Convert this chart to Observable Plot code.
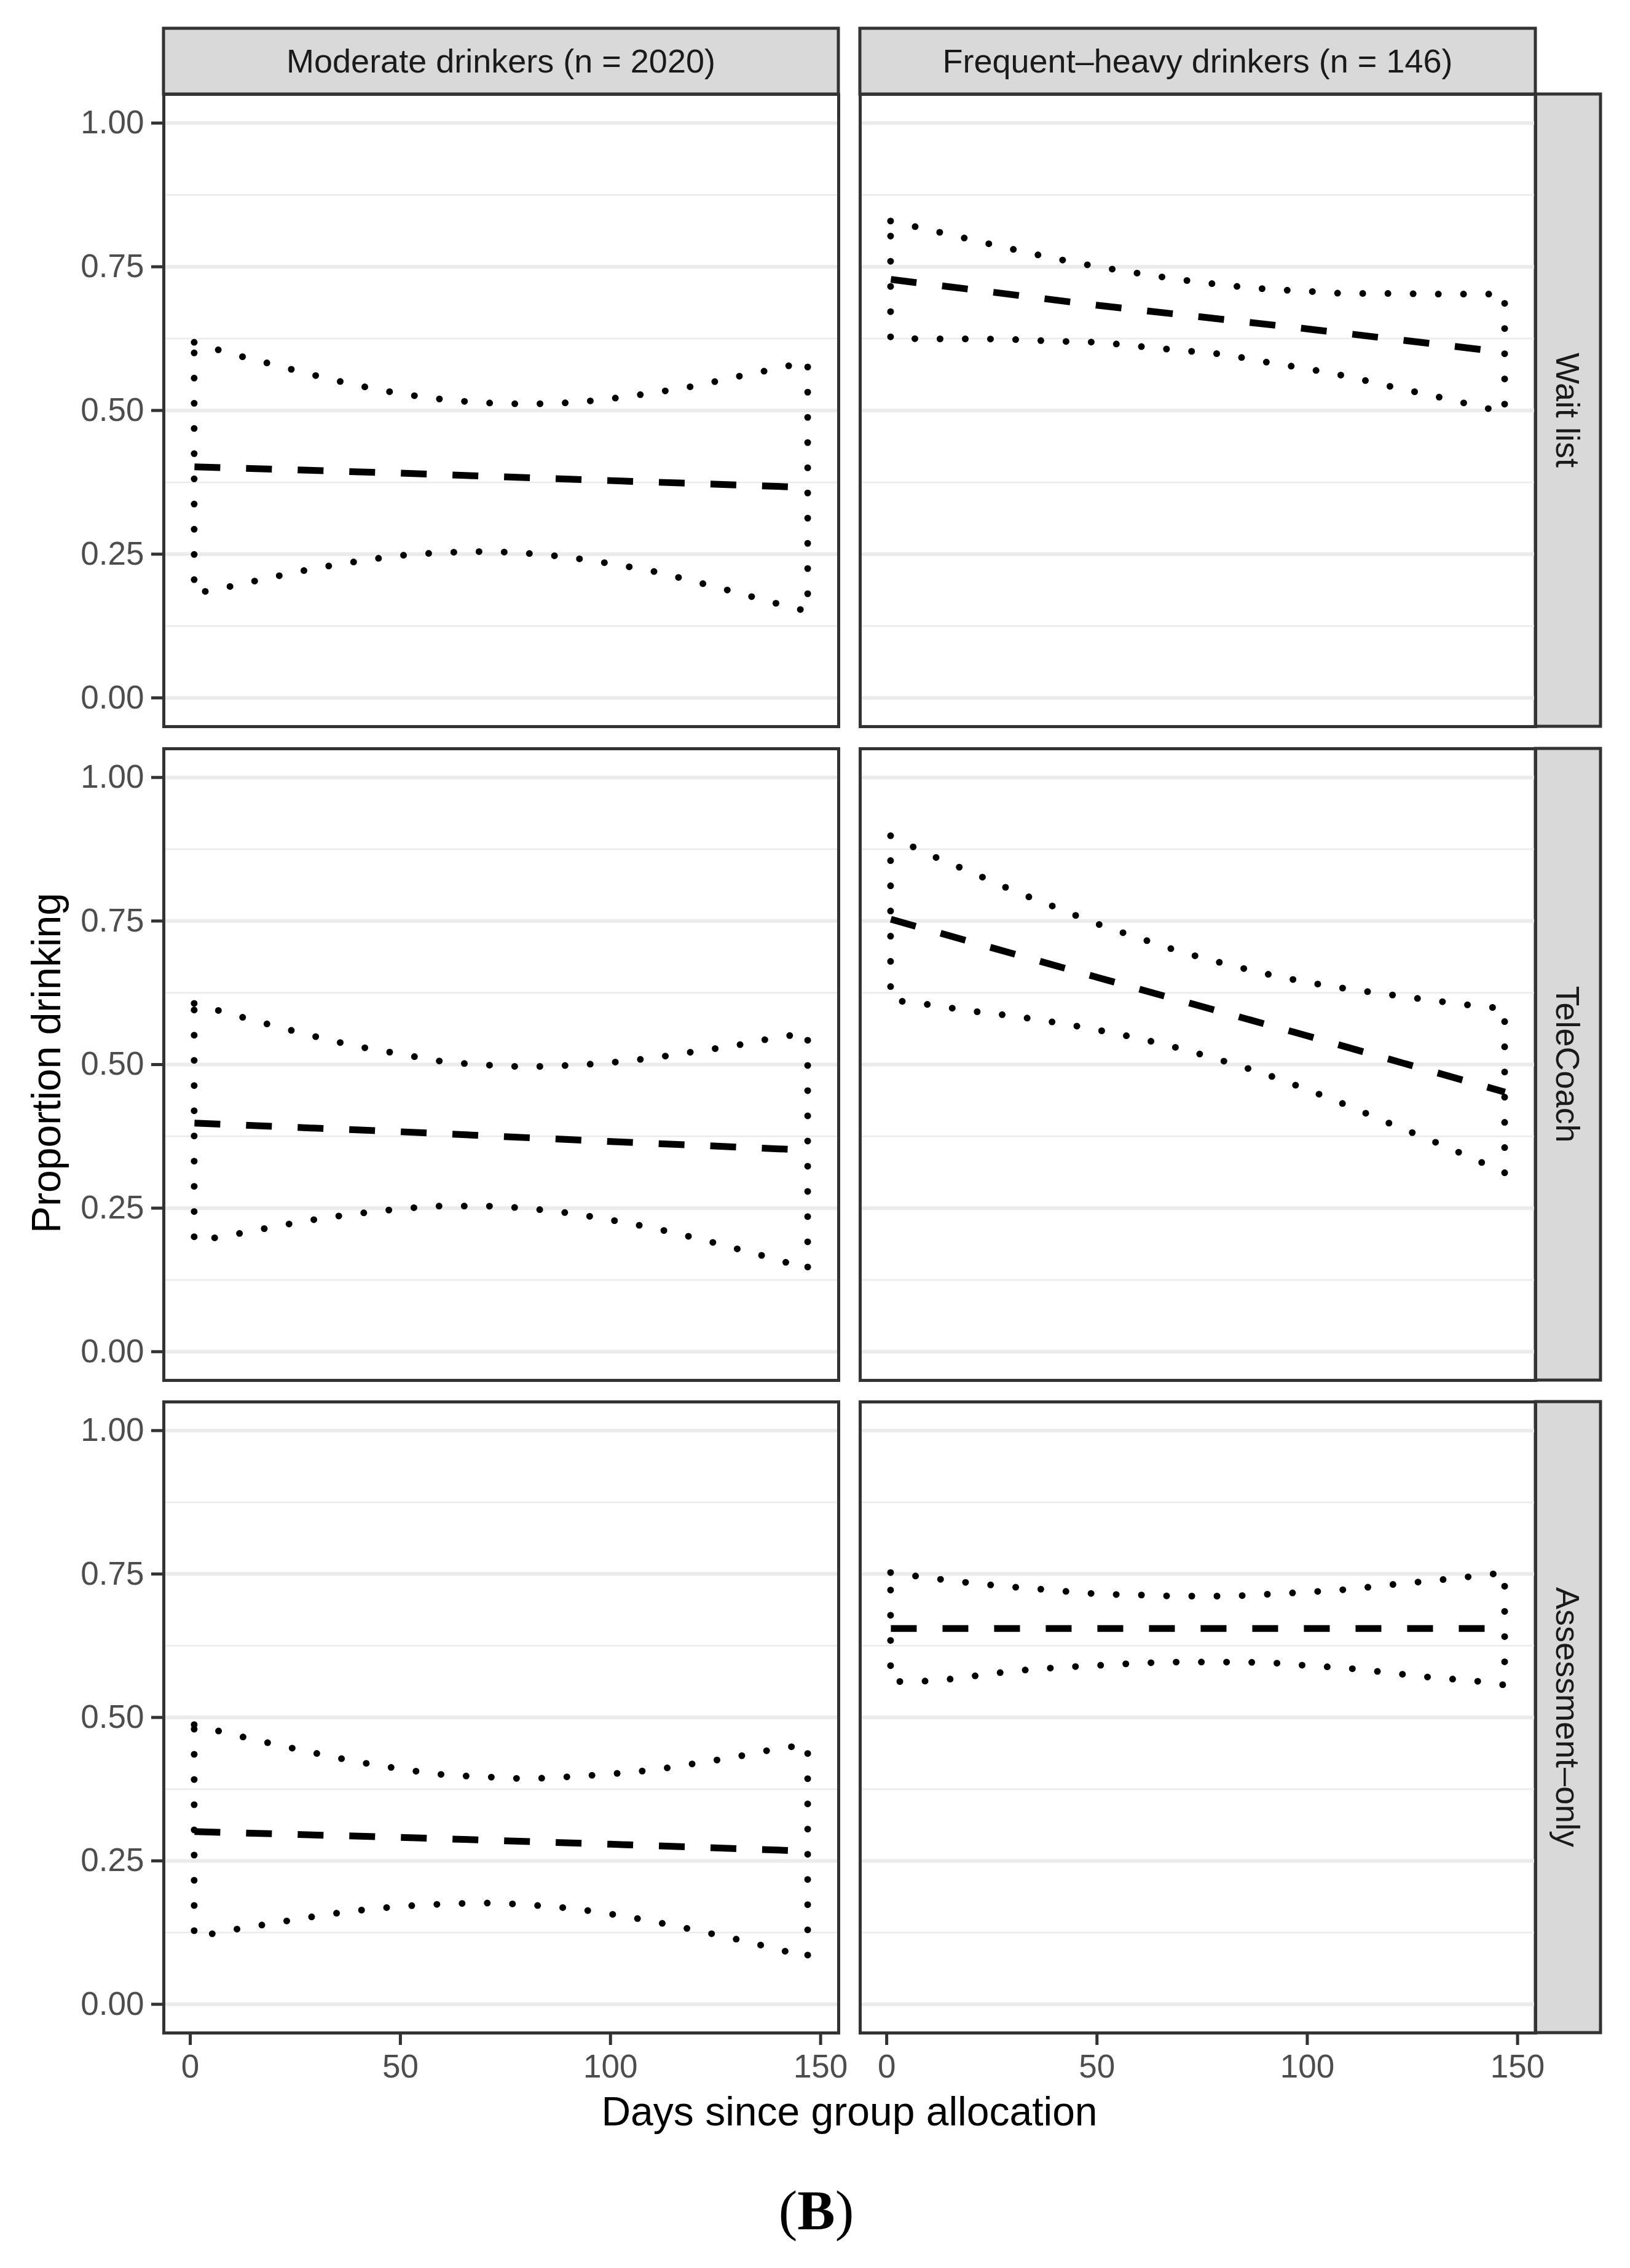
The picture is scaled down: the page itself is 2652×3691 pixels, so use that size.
<!DOCTYPE html>
<html>
<head>
<meta charset="utf-8">
<script src="https://cdn.jsdelivr.net/npm/d3@7"></script>
<script src="https://cdn.jsdelivr.net/npm/@observablehq/plot@0.6"></script>
<style>
html, body { margin: 0; padding: 0; background: #ffffff; }
#chart { position: relative; width: 2652px; height: 3691px; background: #ffffff; overflow: hidden;
  font-family: "Liberation Sans", Arial, Helvetica, sans-serif; }
#chart > svg.overlay { position: absolute; left: 0; top: 0; }
.panel { position: absolute; }
.panel svg { display: block; overflow: visible; }
</style>
</head>
<body>
<div id="chart"></div>
<script>
// ---------------- data ----------------
const days = [1, 10, 20, 30, 40, 50, 60, 70, 80, 90, 100, 110, 120, 130, 140, 147];
const meanDays = [1, 50, 100, 147];
const drinkerGroups = ["Moderate drinkers (n = 2020)", "Frequent–heavy drinkers (n = 146)"];
const conditions = ["Wait list", "TeleCoach", "Assessment–only"];
const xTicks = [0, 50, 100, 150];
const yTicks = [0, 0.25, 0.5, 0.75, 1];
const yMinorTicks = [0.125, 0.375, 0.625, 0.875];
const xTitle = "Days since group allocation";
const yTitle = "Proportion drinking";
const captionLetter = "B";

// Wait list
const modWaitUpper = [.618, .598, .579, .560, .543, .529, .519, .513, .511, .513, .520, .530, .542, .558, .573, .585];
const modWaitLower = [.181, .194, .210, .225, .237, .247, .252, .254, .251, .244, .233, .220, .202, .183, .163, .150];
const modWaitMean  = [.402, .391, .378, .366];
const fhWaitUpper  = [.829, .814, .797, .780, .764, .750, .738, .727, .718, .711, .707, .703, .703, .702, .702, .702];
const fhWaitLower  = [.626, .624, .624, .623, .620, .618, .611, .604, .597, .584, .572, .558, .541, .525, .508, .496];
const fhWaitMean   = [.728, .683, .642, .601];
// TeleCoach
const modTeleUpper = [.606, .587, .567, .548, .531, .518, .505, .499, .496, .498, .503, .511, .522, .533, .547, .554];
const modTeleLower = [.192, .203, .217, .230, .240, .248, .253, .253, .249, .241, .229, .215, .198, .179, .159, .143];
const modTeleMean  = [.398, .383, .366, .351];
const fhTeleUpper  = [.898, .866, .835, .803, .774, .745, .720, .696, .676, .658, .643, .631, .621, .611, .602, .597];
const fhTeleLower  = [.612, .604, .593, .584, .573, .560, .545, .527, .506, .483, .456, .427, .396, .366, .334, .311];
const fhTeleMean   = [.753, .652, .550, .452];
// Assessment-only
const modAssessUpper = [.487, .470, .453, .437, .422, .410, .400, .396, .393, .396, .401, .408, .419, .431, .445, .452];
const modAssessLower = [.116, .129, .141, .153, .163, .170, .174, .176, .173, .167, .157, .144, .129, .113, .095, .082];
const modAssessMean  = [.301, .291, .279, .267];
const fhAssessUpper  = [.752, .743, .734, .727, .721, .715, .713, .711, .711, .714, .718, .723, .731, .738, .746, .752];
const fhAssessLower  = [.562, .563, .571, .580, .586, .590, .594, .596, .596, .595, .590, .585, .577, .569, .563, .556];
const fhAssessMean   = [.655, .655, .655, .655];

const panelSeries = [
  [[modWaitUpper, modWaitLower, modWaitMean], [fhWaitUpper, fhWaitLower, fhWaitMean]],
  [[modTeleUpper, modTeleLower, modTeleMean], [fhTeleUpper, fhTeleLower, fhTeleMean]],
  [[modAssessUpper, modAssessLower, modAssessMean], [fhAssessUpper, fhAssessLower, fhAssessMean]]
];

// ---------------- layout ----------------
const colLeft = [266, 1399], colWidth = [1098, 1099];
const rowTop = [153, 1218, 2281], rowHeight = [1029, 1028, 1027];
const stripTop = 46, stripRightLeft = 2498, stripRightRight = 2604;
const FONT = '"Liberation Sans", Arial, Helvetica, sans-serif';

const chart = document.getElementById("chart");

// overlay for strips and titles
const svg = d3.select(chart).append("svg").attr("class", "overlay")
  .attr("width", 2652).attr("height", 3691)
  .style("font-family", FONT);

drinkerGroups.forEach((g, c) => {
  svg.append("rect").attr("x", colLeft[c]).attr("y", stripTop)
    .attr("width", colWidth[c]).attr("height", rowTop[0] - stripTop)
    .attr("fill", "#d9d9d9").attr("stroke", "#333333").attr("stroke-width", 5);
  svg.append("text").attr("x", colLeft[c] + colWidth[c] / 2).attr("y", (stripTop + rowTop[0]) / 2)
    .attr("dy", "0.35em").attr("text-anchor", "middle").attr("font-size", 54)
    .attr("fill", "#1a1a1a").text(g);
});
conditions.forEach((cond, r) => {
  svg.append("rect").attr("x", stripRightLeft).attr("y", rowTop[r])
    .attr("width", stripRightRight - stripRightLeft).attr("height", rowHeight[r])
    .attr("fill", "#d9d9d9").attr("stroke", "#333333").attr("stroke-width", 5);
  svg.append("text")
    .attr("transform", `translate(${(stripRightLeft + stripRightRight) / 2},${rowTop[r] + rowHeight[r] / 2}) rotate(90)`)
    .attr("dy", "0.35em").attr("text-anchor", "middle").attr("font-size", 54)
    .attr("fill", "#1a1a1a").text(cond);
});
svg.append("text").attr("transform", "translate(98,1730) rotate(-90)")
  .attr("text-anchor", "middle").attr("font-size", 66).attr("fill", "#000").text(yTitle);
svg.append("text").attr("x", 1382).attr("y", 3459)
  .attr("text-anchor", "middle").attr("font-size", 66).attr("fill", "#000").text(xTitle);
const cap = svg.append("text").attr("x", 1328).attr("y", 3628)
  .attr("text-anchor", "middle").attr("font-size", 92)
  .attr("font-family", '"Liberation Serif", "Times New Roman", serif').attr("fill", "#000");
cap.append("tspan").text("(");
cap.append("tspan").attr("font-weight", "bold").text(captionLetter);
cap.append("tspan").text(")");

// ---------------- panels ----------------
function makePanel(r, c) {
  const [upper, lower, mean] = panelSeries[r][c];
  const ribbon = days.map((d, i) => ({day: d, lo: lower[i], hi: upper[i]}));
  const avg = meanDays.map((d, i) => ({day: d, p: mean[i]}));
  const mL = c === 0 ? 170 : 10, mR = 10, mT = 10, mB = r === 2 ? 120 : 10;
  const marks = [
    Plot.ruleY(yMinorTicks, {stroke: "#ebebeb", strokeWidth: 2.5}),
    Plot.ruleY(yTicks, {stroke: "#ebebeb", strokeWidth: 6}),
    Plot.areaY(ribbon, {x: "day", y1: "lo", y2: "hi", fill: "none", stroke: "#000000",
      strokeWidth: 11, strokeDasharray: "0,41", strokeLinecap: "round", curve: "monotone-x"}),
    Plot.line(avg, {x: "day", y: "p", stroke: "#000000", strokeWidth: 11,
      strokeDasharray: "42,42", strokeLinecap: "butt"}),
    Plot.frame({stroke: "#333333", strokeWidth: 5})
  ];
  if (c === 0) marks.push(Plot.axisY(yTicks, {tickFormat: d3.format(".2f"), tickSize: 20, tickPadding: 12,
    fontSize: 53, fill: "#4d4d4d", stroke: "#333333", strokeWidth: 5, label: null}));
  if (r === 2) marks.push(Plot.axisX(xTicks, {tickSize: 20, tickPadding: 15,
    fontSize: 53, fill: "#4d4d4d", stroke: "#333333", strokeWidth: 5, label: null}));
  const plot = Plot.plot({
    width: mL + colWidth[c] + mR,
    height: mT + rowHeight[r] + mB,
    marginLeft: mL, marginRight: mR, marginTop: mT, marginBottom: mB,
    x: Object.assign({domain: [-6.3, 154.3]}, r === 2 ? {} : {axis: null}),
    y: Object.assign({domain: [-0.05, 1.05]}, c === 0 ? {} : {axis: null}),
    style: {background: "transparent", overflow: "visible", fontFamily: FONT},
    marks
  });
  const div = document.createElement("div");
  div.className = "panel";
  div.style.left = (colLeft[c] - mL) + "px";
  div.style.top = (rowTop[r] - mT) + "px";
  div.appendChild(plot);
  chart.appendChild(div);
}
for (let r = 0; r < 3; r++) for (let c = 0; c < 2; c++) makePanel(r, c);
</script>
</body>
</html>
